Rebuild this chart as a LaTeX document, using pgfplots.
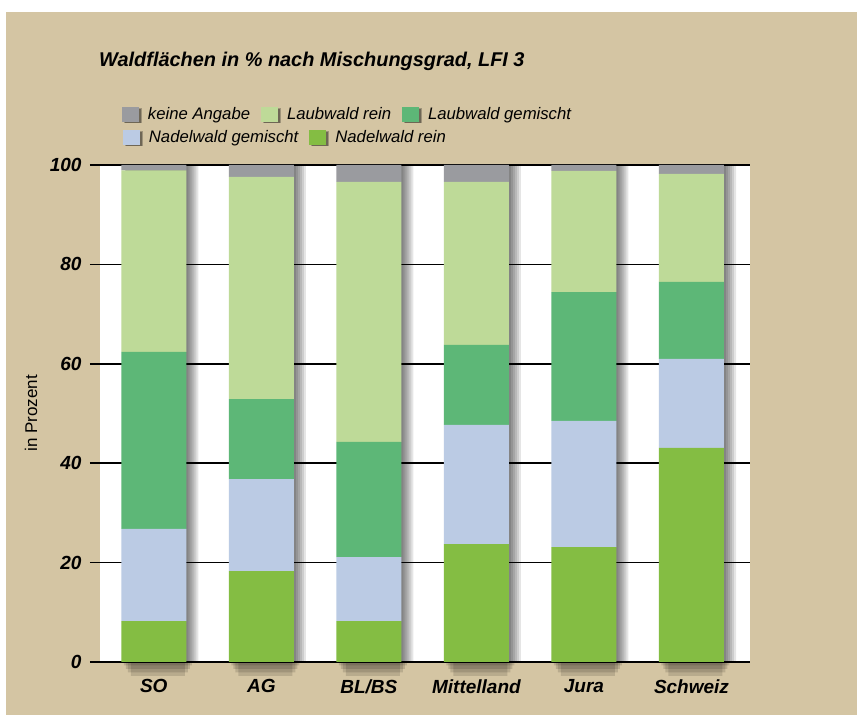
\documentclass[border=0pt]{standalone}
\usepackage{pgfplots}
\pgfplotsset{compat=1.18}
\usepackage{fontspec}
\setmainfont{Liberation Sans}
\definecolor{tanbg}{HTML}{D4C5A3}
\definecolor{cKA}{HTML}{9A9B9F}
\definecolor{cLR}{HTML}{BEDA98}
\definecolor{cLG}{HTML}{5DB777}
\definecolor{cNG}{HTML}{BBCBE4}
\definecolor{cNR}{HTML}{84BD43}
\pgfplotsset{
  boxlegend/.style={
    legend image code/.code={
      \fill[black, opacity=0.25] (2pt,-9pt) rectangle (20pt,6.5pt);
      \fill[black, opacity=0.3] (3pt,-8.5pt) rectangle (19pt,5.5pt);
      \fill[##1, draw=none] (0pt,-7.5pt) rectangle (17pt,7.5pt);
    }
  },
  common/.style={
    at={(100pt,53pt)}, anchor=south west,
    scale only axis, width=650pt, height=497pt,
    xmin=-0.5, xmax=5.544, ymin=0, ymax=100,
    legend columns=-1,
    legend style={draw=none, fill=none, inner sep=0pt, outer sep=0pt,
      font=\itshape\fontsize{16.7}{19}\selectfont,
      /tikz/every odd column/.append style={column sep=4pt},
      /tikz/every even column/.append style={column sep=9pt}},
  },
  sh/.style={ybar, fill=black, fill opacity=0.1, draw=none, forget plot},
}
\begin{document}
\begin{tikzpicture}
\path[use as bounding box] (0,0) rectangle (857pt,715pt);
\fill[white] (0,0) rectangle (857pt,715pt);
\fill[tanbg] (6pt,0) rectangle (857pt,703pt);
% shadows + background
\begin{axis}[common, clip=false,
  axis background/.style={fill=white},
  axis line style={draw=none}, ticks=none,
  boxlegend,
  legend style={at={(0.0353,1.0553)}, anchor=west}]
\addplot[sh, bar width=63pt, bar shift=3pt] coordinates {(0,100) (1,100) (2,100) (3,100) (4,100) (5,100)};
\addplot[sh, bar width=65pt, bar shift=4pt] coordinates {(0,100) (1,100) (2,100) (3,100) (4,100) (5,100)};
\addplot[sh, bar width=67pt, bar shift=5pt] coordinates {(0,100) (1,100) (2,100) (3,100) (4,100) (5,100)};
\addplot[sh, bar width=69pt, bar shift=6pt] coordinates {(0,100) (1,100) (2,100) (3,100) (4,100) (5,100)};
\addplot[sh, bar width=71pt, bar shift=7pt] coordinates {(0,100) (1,100) (2,100) (3,100) (4,100) (5,100)};
\addplot[sh, bar width=73pt, bar shift=8pt] coordinates {(0,100) (1,100) (2,100) (3,100) (4,100) (5,100)};
\addplot[sh, fill opacity=0.13, bar width=68pt, bar shift=4pt] coordinates {(0,-0.7) (1,-0.7) (2,-0.7) (3,-0.7) (4,-0.7) (5,-0.7)};
\addplot[sh, fill opacity=0.13, bar width=64pt, bar shift=4pt] coordinates {(0,-1.4) (1,-1.4) (2,-1.4) (3,-1.4) (4,-1.4) (5,-1.4)};
\addplot[sh, fill opacity=0.13, bar width=60pt, bar shift=4pt] coordinates {(0,-2.1) (1,-2.1) (2,-2.1) (3,-2.1) (4,-2.1) (5,-2.1)};
\addplot[sh, fill opacity=0.13, bar width=54pt, bar shift=4pt] coordinates {(0,-2.8) (1,-2.8) (2,-2.8) (3,-2.8) (4,-2.8) (5,-2.8)};
\addlegendimage{fill=cNG, draw=none}
\addlegendentry{Nadelwald gemischt}
\addlegendimage{fill=cNR, draw=none}
\addlegendentry{Nadelwald rein}
\end{axis}
% bars
\begin{axis}[common,
  ybar stacked, bar width=65pt,
  xtick=data, xticklabels={SO,AG,BL/BS,Mittelland,Jura,Schweiz},
  ytick={0,20,40,60,80,100},
  ymajorgrids, grid style={black, line width=1.5pt},
  axis line style={draw=none},
  ytick pos=left, tick align=outside, major tick length=10pt,
  y tick style={black, line width=1.5pt},
  x tick style={draw=none},
  /pgf/number format/assume math mode=true,
  tick label style={font=\bfseries\itshape\fontsize{19}{22}\selectfont},
  xticklabel style={yshift=-4pt},
  yticklabel style={xshift=-5pt},
  ylabel={in Prozent},
  ylabel style={at={(rel axis cs:-0.106,0.5)}, anchor=center, font=\fontsize{17}{20}\selectfont},
  reverse legend,
  boxlegend,
  legend style={at={(0.0338,1.1016)}, anchor=west}]
\addplot[fill=cNR, draw=none, forget plot] coordinates {(0,8.2) (1,18.3) (2,8.2) (3,23.7) (4,23.1) (5,43.1)};
\addplot[fill=cNG, draw=none, forget plot] coordinates {(0,18.6) (1,18.5) (2,12.9) (3,24.0) (4,25.4) (5,17.9)};
\addplot[fill=cLG, draw=none] coordinates {(0,35.6) (1,16.1) (2,23.2) (3,16.1) (4,25.9) (5,15.5)};
\addlegendentry{Laubwald gemischt}
\addplot[fill=cLR, draw=none] coordinates {(0,36.5) (1,44.7) (2,52.3) (3,32.8) (4,24.4) (5,21.7)};
\addlegendentry{Laubwald rein}
\addplot[fill=cKA, draw=none] coordinates {(0,1.1) (1,2.4) (2,3.4) (3,3.4) (4,1.2) (5,1.8)};
\addlegendentry{keine Angabe}
\end{axis}
\node[anchor=base west, inner sep=0pt, font=\bfseries\itshape\fontsize{19.9}{22}\selectfont] at (99pt,648pt) {Waldflächen in \% nach Mischungsgrad, LFI 3};
\end{tikzpicture}
\end{document}
